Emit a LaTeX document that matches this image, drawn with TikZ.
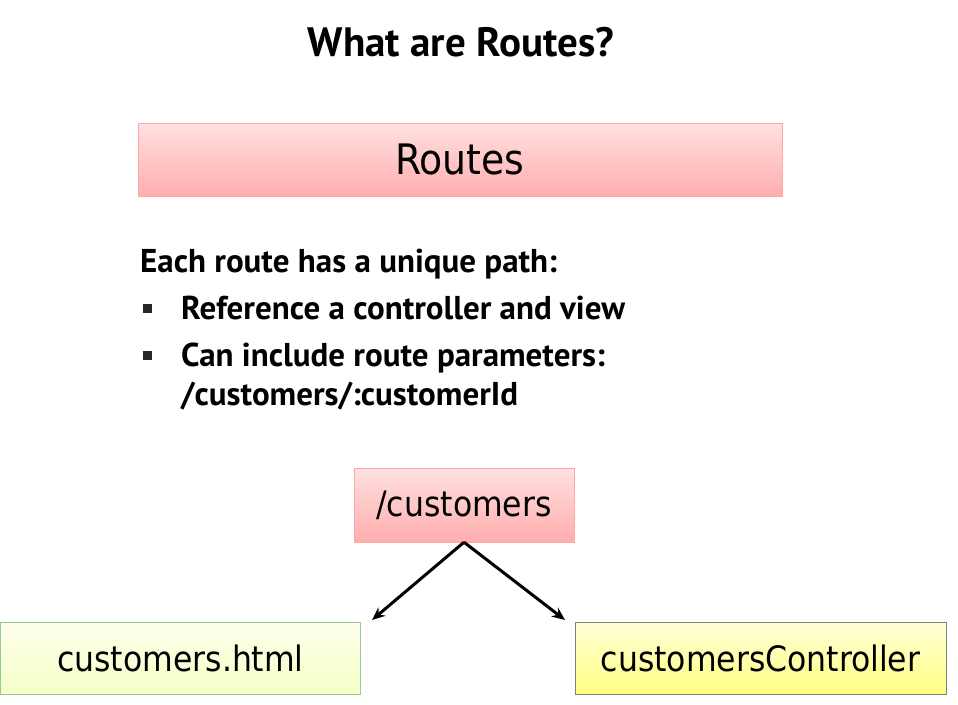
\documentclass[tikz,border=0pt]{standalone}
\usepackage{fontspec}
\setmainfont{PT Sans}
\newfontfamily\boxfont{DejaVu Sans Condensed}
\usetikzlibrary{arrows.meta}

\tikzset{
    pinkbox/.style={draw=red!35!white, top color=red!12!white, bottom color=red!32!white, inner sep=0pt, font=\boxfont\fontsize{42}{44}\selectfont},
    greenbox/.style={draw=green!30!gray!60, top color=green!5!yellow!8!white, bottom color=green!18!yellow!22!white, inner sep=0pt, font=\boxfont\fontsize{35}{37}\selectfont},
    yellowbox/.style={draw=gray, top color=yellow!15!white, bottom color=yellow!50!white, inner sep=0pt, font=\boxfont\fontsize{35}{37}\selectfont},
    bodytext/.style={anchor=base west, inner sep=0pt, font=\bfseries\fontsize{33}{35}\selectfont},
    bulletmark/.style={fill=black!85, minimum size=9pt, inner sep=0pt}
}

\begin{document}
\begin{tikzpicture}[x=1pt, y=-1pt]
    \useasboundingbox[fill=white] (0,0) rectangle (958,704);

    \node[anchor=base, inner sep=0pt, font=\bfseries\fontsize{41}{43}\selectfont] (title) at (461,56) {What are Routes?};

    \node[pinkbox, minimum width=644pt, minimum height=73pt] (routes) at (460,159.5) {Routes};

    \node[bodytext] (intro) at (140,272) {Each route has a unique path:};
    \node[bulletmark] (b1) at (147,308) {};
    \node[bodytext] (item1) at (181,319) {Reference a controller and view};
    \node[bulletmark] (b2) at (147,355) {};
    \node[bodytext] (item2) at (181,366) {Can include route parameters:};
    \node[bodytext] (item3) at (181,405) {/customers/:customerId};

    \node[pinkbox, minimum width=220pt, minimum height=74pt, font=\boxfont\fontsize{35}{37}\selectfont] (path) at (464,505) {/customers};
    \node[greenbox, minimum width=360pt, minimum height=72pt] (view) at (180.5,658) {customers.html};
    \node[yellowbox, minimum width=371pt, minimum height=72pt] (ctrl) at (760.5,658) {customersController};

    \coordinate (viewend) at (372,620);
    \coordinate (ctrlend) at (565,620);
    \draw[-{Stealth[length=13pt,width=11pt]}, line width=3pt] (path.south) -- (viewend);
    \draw[-{Stealth[length=13pt,width=11pt]}, line width=3pt] (path.south) -- (ctrlend);
\end{tikzpicture}
\end{document}
